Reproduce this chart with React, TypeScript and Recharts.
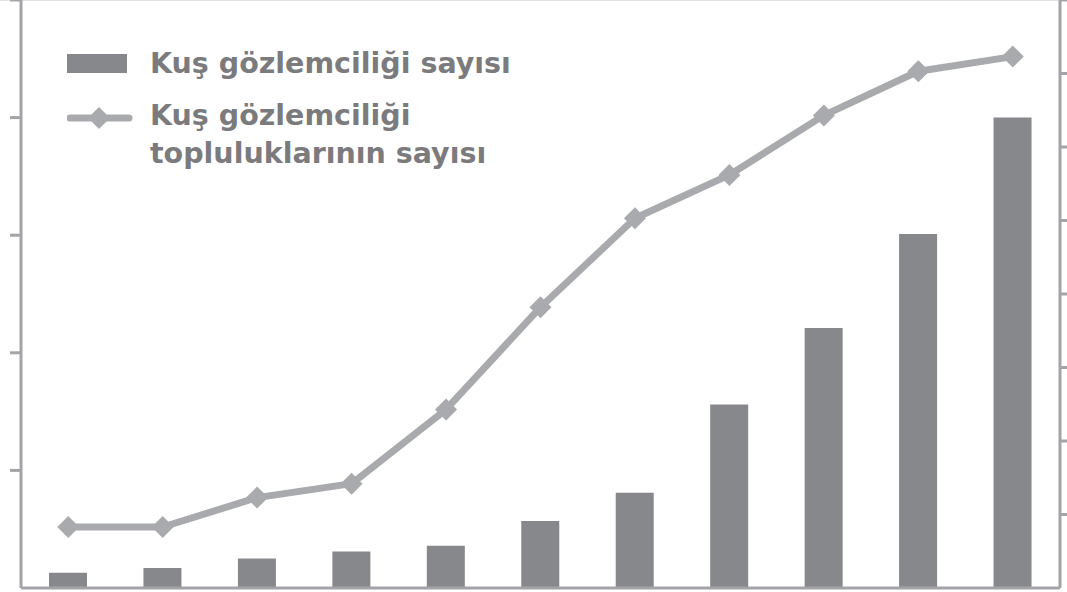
import { ComposedChart, Bar, Line, XAxis, YAxis } from "recharts";

// eleven periods, no labels shown on the axis
const periods = ["1", "2", "3", "4", "5", "6", "7", "8", "9", "10", "11"];
const watcherCounts = [13, 17, 25, 31, 36, 57, 81, 156, 221, 301, 400];
const clubCounts = [83, 83, 123, 142, 243, 382, 503, 562, 643, 703, 723];
const leftTicks = [0, 100, 200, 300, 400, 500];
const rightTicks = [0, 100, 200, 300, 400, 500, 600, 700, 800];
const legendLabels = ["Kuş gözlemciliği sayısı", "Kuş gözlemciliği", "topluluklarının sayısı"];

const data = periods.map((p, i) => ({
  period: p,
  watchers: watcherCounts[i],
  clubs: clubCounts[i],
}));

const AXIS = "#a3a4a8";
const BAR = "#87888c";
const LINE = "#a9aaae";
const TEXT = "#7b7b7d";

function Diamond(props: any) {
  const { cx, cy } = props;
  if (cx == null || cy == null) return null;
  const r = 11;
  return (
    <polygon
      points={`${cx},${cy - r} ${cx + r},${cy} ${cx},${cy + r} ${cx - r},${cy}`}
      fill={LINE}
    />
  );
}

const NoLabel = () => <g />;

function LegendBox() {
  const font = {
    fontFamily: "DejaVu Sans, sans-serif",
    fontWeight: 700,
    fontSize: 28.5,
    color: TEXT,
    lineHeight: "38px",
    whiteSpace: "nowrap" as const,
  };
  return (
    <div style={{ position: "absolute", left: 67, top: 46, width: 480, height: 140 }}>
      <div
        style={{
          position: "absolute",
          left: 0,
          top: 8,
          width: 60,
          height: 19,
          background: BAR,
        }}
      />
      <svg
        style={{ position: "absolute", left: 0, top: 59 }}
        width={66}
        height={26}
      >
        <line x1={3} y1={13} x2={62} y2={13} stroke={LINE} strokeWidth={7} strokeLinecap="round" />
        <polygon points="32,2 43,13 32,24 21,13" fill={LINE} />
      </svg>
      <div style={{ ...font, position: "absolute", left: 83, top: -1 }}>
        {legendLabels[0]}
      </div>
      <div style={{ ...font, position: "absolute", left: 83, top: 51 }}>
        {legendLabels[1]}
        <br />
        {legendLabels[2]}
      </div>
    </div>
  );
}

export default function App() {
  return (
    <div style={{ position: "absolute", left: 0, top: 0, width: 1067, height: 592, background: "#fff" }}>
      <div style={{ position: "absolute", left: 0, top: 0, width: 1067, height: 1, background: "#e2e2e4" }} />
      <ComposedChart
        width={1067}
        height={592}
        data={data}
        margin={{ top: 0, right: 0, bottom: 0, left: 0 }}
        barCategoryGap={0}
      >
        <XAxis
          dataKey="period"
          height={4}
          tick={false}
          tickLine={false}
          axisLine={{ stroke: AXIS, strokeWidth: 3 }}
        />
        <YAxis
          yAxisId="left"
          orientation="left"
          width={21}
          domain={[0, 500]}
          ticks={leftTicks}
          tick={<NoLabel />}
          tickSize={11}
          axisLine={{ stroke: AXIS, strokeWidth: 3 }}
          tickLine={{ stroke: AXIS, strokeWidth: 3 }}
        />
        <YAxis
          yAxisId="right"
          orientation="right"
          width={7}
          domain={[0, 800]}
          ticks={rightTicks}
          tick={<NoLabel />}
          tickSize={7}
          axisLine={{ stroke: AXIS, strokeWidth: 3 }}
          tickLine={{ stroke: AXIS, strokeWidth: 3 }}
        />
        <Bar
          yAxisId="left"
          dataKey="watchers"
          fill={BAR}
          barSize={38}
          isAnimationActive={false}
        />
        <Line
          yAxisId="right"
          dataKey="clubs"
          type="linear"
          stroke={LINE}
          strokeWidth={7}
          strokeLinejoin="round"
          dot={<Diamond />}
          activeDot={false}
          isAnimationActive={false}
        />
      </ComposedChart>
      <LegendBox />
    </div>
  );
}
